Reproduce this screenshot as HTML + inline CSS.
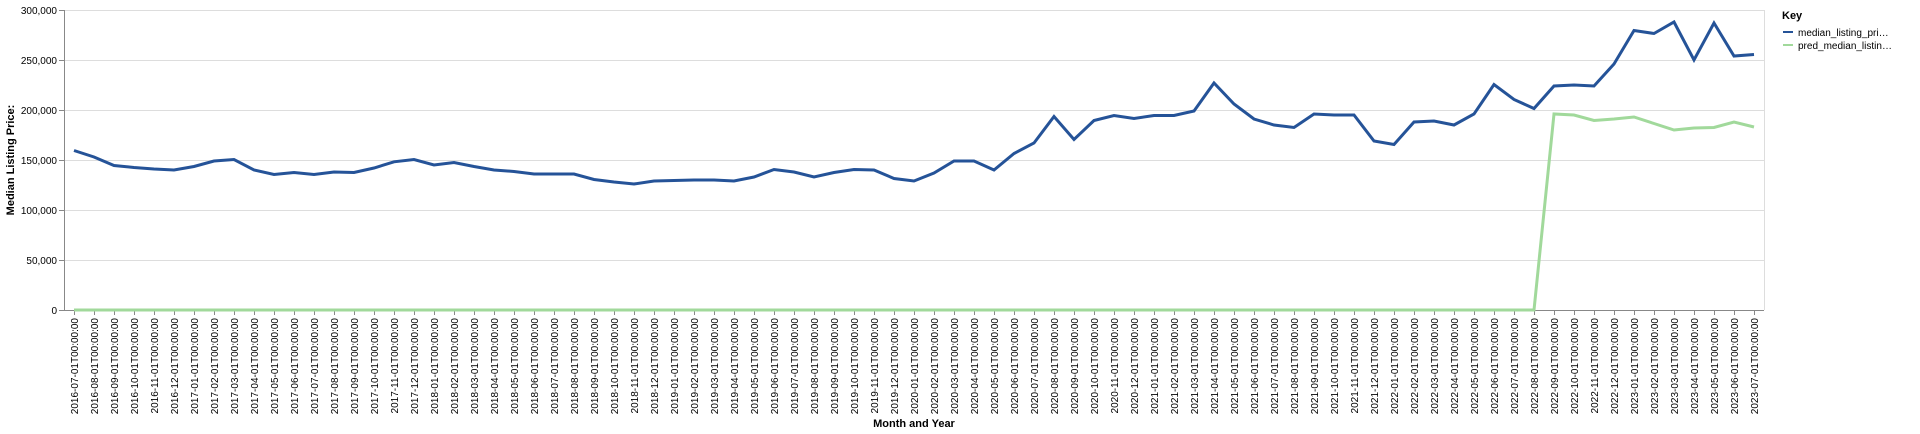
<!DOCTYPE html>
<html><head><meta charset="utf-8"><style>
body{margin:0;background:#fff;}
svg{display:block;font-family:"Liberation Sans",Arial,sans-serif;}
</style></head><body>
<svg id="chart" width="1920" height="434" xmlns="http://www.w3.org/2000/svg">
<g id="grid"></g>
<g id="yaxis"></g>
<g id="xaxis"></g>
<g id="series"></g>
<text x="14" y="160" transform="rotate(-90 14 160)" text-anchor="middle" font-size="11" font-weight="bold">Median Listing Price:</text>
<text x="914" y="427" text-anchor="middle" font-size="11" font-weight="bold">Month and Year</text>
<g>
<text x="1782" y="19" font-size="11" font-weight="bold">Key</text>
<line x1="1783" y1="32" x2="1793" y2="32" stroke="#255398" stroke-width="2"/>
<text x="1798" y="36" font-size="10">median_listing_pri…</text>
<line x1="1783" y1="45" x2="1793" y2="45" stroke="#a1d99b" stroke-width="2"/>
<text x="1798" y="49" font-size="10">pred_median_listin…</text>
</g>
</svg>
<script>
const startYear = 2016, startMonth = 7, nPoints = 85;
const medianValues = [159.5,153,144.5,142.5,141,140,143.5,149,150.5,140,135.5,137.5,135.5,138,137.5,142,148.2,150.5,145,147.5,143.5,140,138.5,136,136,136,130.5,128,126,129,129.5,130,130,129,133,140.5,138,133,137.5,140.5,140,131.5,129,137,149,149,140,156.5,167,193.5,170.5,189.5,194.5,191.5,194.5,194.5,199,227,206,191,185,182.5,196,195,195,169,165.5,188,189,185,196,225.5,210.5,201.5,224,225,224,246,279.5,276.5,288,250,287,254,255.5].map(v=>v*1000);
const predValues = [0,0,0,0,0,0,0,0,0,0,0,0,0,0,0,0,0,0,0,0,0,0,0,0,0,0,0,0,0,0,0,0,0,0,0,0,0,0,0,0,0,0,0,0,0,0,0,0,0,0,0,0,0,0,0,0,0,0,0,0,0,0,0,0,0,0,0,0,0,0,0,0,0,0,196,195,189.5,191,193,186.5,180,182,182.5,188,183].map(v=>v*1000);
const yTicks = [0,50000,100000,150000,200000,250000,300000];

const categories = [];
for (let i=0;i<nPoints;i++){const m=(startMonth-1+i)%12+1, y=startYear+Math.floor((startMonth-1+i)/12);categories.push(y+'-'+String(m).padStart(2,'0')+'-01T00:00:00');}

const NS='http://www.w3.org/2000/svg';
const X0=64, X1=1764, Y0=310, Y1=10;
const step=(X1-X0)/categories.length;
const xs=i=>X0+step*(i+0.5);
const ys=v=>Y0-(v/300000)*(Y0-Y1);
function mk(tag,attrs,parent){const e=document.createElementNS(NS,tag);for(const k in attrs)e.setAttribute(k,attrs[k]);parent.appendChild(e);return e;}
const grid=document.getElementById('grid'), yax=document.getElementById('yaxis'), xax=document.getElementById('xaxis'), ser=document.getElementById('series');
yTicks.forEach(t=>{
  const y=ys(t)+0.5;
  const g=mk('line',{x1:X0,x2:X1,y1:y,y2:y,stroke:'#ddd','stroke-width':1},grid);
  
  
  const tk=mk('line',{x1:X0-5,x2:X0,y1:y,y2:y,stroke:'#888'},yax);
  
  
  const tx=mk('text',{x:X0-7,y:y+3.5,'text-anchor':'end','font-size':10,fill:'#000'},yax);
  tx.textContent=t.toLocaleString('en-US');
  
  
});
mk('line',{x1:X1+0.5,x2:X1+0.5,y1:Y1,y2:Y0,stroke:'#ddd'},grid);
mk('line',{x1:X0+0.5,x2:X0+0.5,y1:Y1,y2:Y0,stroke:'#888'},yax);
mk('line',{x1:X0,x2:X1,y1:Y0+0.5,y2:Y0+0.5,stroke:'#888'},xax);
categories.forEach((c,i)=>{
  const x=xs(i)+0.5;
  const tk=mk('line',{x1:x,x2:x,y1:Y0,y2:Y0+5,stroke:'#888'},xax);
  
  
  const tx=mk('text',{x:x+3.5,y:Y0+8,'text-anchor':'end','font-size':10,transform:`rotate(-90 ${x+3.5} ${Y0+8})`},xax);
  tx.textContent=c;
  
  
});
function line(vals,color,name){
  const d=vals.map((v,i)=>(i?'L':'M')+xs(i).toFixed(1)+','+ys(v).toFixed(1)).join('');
  const p=mk('path',{d:d,fill:'none',stroke:color,'stroke-width':3,'stroke-linejoin':'miter'},ser);
  
  
}
line(predValues,'#a1d99b','pred-median-listing-price-line');
line(medianValues,'#255398','median-listing-price-line');
</script>
</body></html>
